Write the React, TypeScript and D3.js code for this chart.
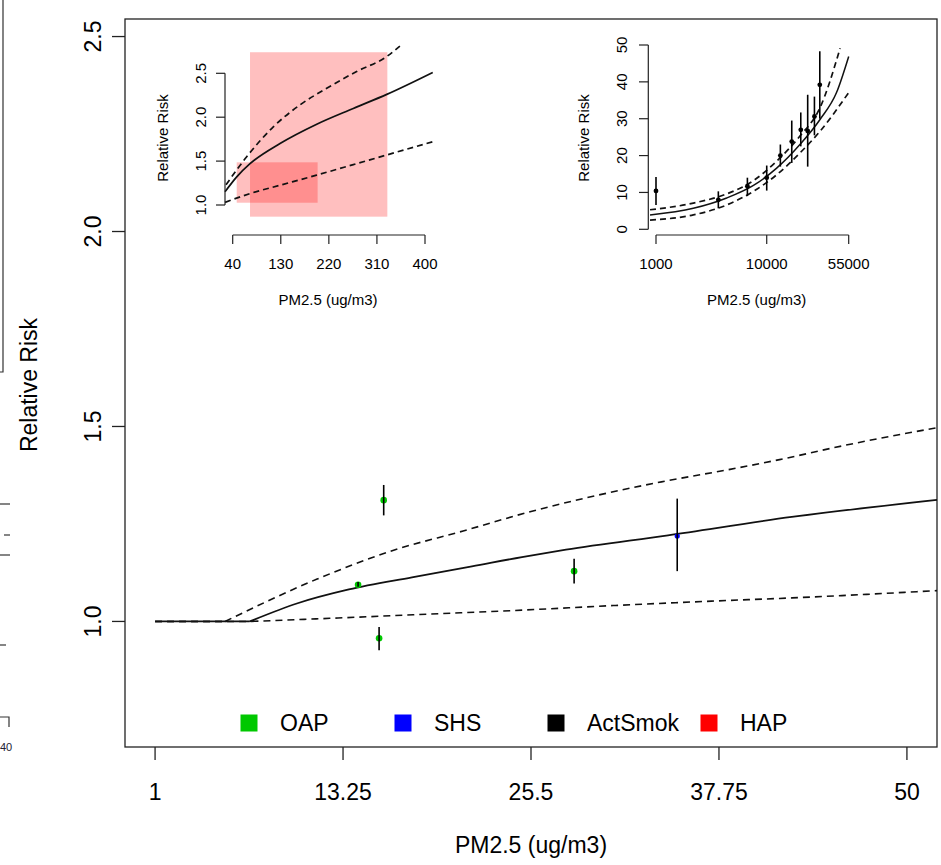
import React from "react";
import * as d3 from "d3";

// ---------- main panel data ----------
const mainTicksX = [1, 13.25, 25.5, 37.75, 50];
const mainTickLabelsX = ["1", "13.25", "25.5", "37.75", "50"];
const mainTicksY = [1.0, 1.5, 2.0, 2.5];
const mainTickLabelsY = ["1.0", "1.5", "2.0", "2.5"];

const mainCurveX = [1, 7.17, 10.24, 13.63, 17.74, 21.65, 24.91, 27.78, 34.43, 42.5, 51.96];
const mainCurveY = [1.0, 1.0, 1.046, 1.082, 1.113, 1.141, 1.165, 1.184, 1.221, 1.268, 1.312];
const mainUpperX = [1, 5.56, 11.52, 16.5, 21.08, 25.5, 29.77, 34.0, 38.47, 41.7, 46.0, 51.96];
const mainUpperY = [1.0, 1.0, 1.108, 1.182, 1.232, 1.282, 1.323, 1.358, 1.39, 1.415, 1.452, 1.497];
const mainLowerX = [1, 7.28, 12.39, 19.56, 24.4, 31.0, 38.47, 41.7, 51.96];
const mainLowerY = [1.0, 1.0, 1.008, 1.02, 1.028, 1.041, 1.054, 1.059, 1.079];

const oapX = [15.9, 14.23, 15.6, 28.31];
const oapY = [1.311, 1.094, 0.957, 1.129];
const oapLo = [1.272, 1.089, 0.926, 1.097];
const oapHi = [1.35, 1.101, 0.986, 1.161];

const shsX = [35.03];
const shsY = [1.219];
const shsLo = [1.129];
const shsHi = [1.315];

const legendLabels = ["OAP", "SHS", "ActSmok", "HAP"];
const legendColors = ["#00C800", "#0000FF", "#000000", "#FF0000"];

// ---------- inset 1 (HAP) data ----------
const hapTicksX = [40, 130, 220, 310, 400];
const hapTicksY = [1.0, 1.5, 2.0, 2.5];
const hapTickLabelsY = ["1.0", "1.5", "2.0", "2.5"];
const hapCurveX = [25.6, 47.5, 72.4, 128.6, 197.3, 265.8, 328.4, 414.5];
const hapCurveY = [1.15, 1.32, 1.47, 1.7, 1.92, 2.1, 2.26, 2.51];
const hapUpperX = [27.5, 66.2, 116, 166, 216, 272, 328, 353];
const hapUpperY = [1.23, 1.55, 1.89, 2.14, 2.33, 2.52, 2.69, 2.81];
const hapLowerX = [25.6, 72.4, 134.8, 197, 265.8, 328.4, 414.5];
const hapLowerY = [1.03, 1.13, 1.235, 1.34, 1.46, 1.57, 1.72];
const hapRectX0 = [72.4, 47.5];
const hapRectX1 = [329.5, 199];
const hapRectY0 = [0.867, 1.026];
const hapRectY1 = [2.74, 1.486];

// ---------- inset 2 (ActSmok) data ----------
const actTicksX = [1000, 10000, 55000];
const actTicksY = [0, 10, 20, 30, 40, 50];
const actX = [1000, 3656, 6690, 10000, 13280, 16830, 20300, 23440, 26970, 30150];
const actY = [10.4, 8.0, 11.7, 14.0, 20.0, 23.8, 27.0, 26.7, 30.6, 39.2];
const actLo = [6.6, 5.7, 9.0, 10.5, 17.0, 18.0, 22.5, 17.0, 25.5, 30.0];
const actHi = [14.2, 10.3, 14.0, 17.3, 23.0, 29.5, 31.7, 36.5, 36.0, 48.3];
const actCurveX = [883, 2173, 4350, 7590, 12300, 19950, 30300, 42700, 55000];
const actCurveY = [3.9, 5.7, 8.5, 11.9, 16.6, 23.0, 29.8, 37.1, 46.9];
const actUpperX = [883, 2173, 4350, 7590, 12300, 19950, 30300, 46000];
const actUpperY = [5.3, 7.1, 9.6, 13.2, 18.5, 25.3, 33.0, 49.1];
const actLowerX = [883, 2173, 4350, 7590, 12300, 19950, 30300, 55000];
const actLowerY = [2.5, 3.9, 6.6, 10.3, 14.8, 20.7, 26.6, 37.1];

const FONT = "'Liberation Sans', Arial, Helvetica, sans-serif";

function zip(xs: number[], ys: number[]): [number, number][] {
  return xs.map((x, i) => [x, ys[i]]);
}

export default function App() {
  // main scales
  const x = d3.scaleLinear().domain([-0.96, 51.96]).range([125, 937]);
  const y = d3.scaleLinear().domain([0.678, 2.545]).range([747, 19]);

  // inset 1 scales
  const hx = d3.scaleLinear().domain([40, 400]).range([232.7, 425]);
  const hy = d3.scaleLinear().domain([1.0, 2.5]).range([205, 73.3]);

  // inset 2 scales
  const ax = d3.scaleLog().domain([1000, 55000]).range([656, 848.7]);
  const ay = d3.scaleLinear().domain([0, 50]).range([229.3, 45]);

  const mainLin = d3.line<[number, number]>().x((d) => x(d[0])).y((d) => y(d[1])).curve(d3.curveLinear);
  const mainLine = d3.line<[number, number]>().x((d) => x(d[0])).y((d) => y(d[1])).curve(d3.curveMonotoneX);
  // flat threshold part drawn straight, rising part drawn smooth (sharp kink at threshold)
  const mainPath = (xs: number[], ys: number[]) => {
    const pts = zip(xs, ys);
    return (mainLin(pts.slice(0, 2)) || "") + (mainLine(pts.slice(1)) || "");
  };
  const hapLine = d3.line<[number, number]>().x((d) => hx(d[0])).y((d) => hy(d[1])).curve(d3.curveMonotoneX);
  const actLine = d3.line<[number, number]>().x((d) => ax(d[0])).y((d) => ay(d[1])).curve(d3.curveMonotoneX);

  const legendX = [249, 403, 556, 709];
  const legendY = 723;

  return (
    <svg
      width={941}
      height={865}
      style={{ position: "absolute", left: 0, top: 0, background: "#fff" }}
      fontFamily={FONT}
    >
      <rect x={0} y={0} width={941} height={865} fill="#fff" />

      {/* residue of neighbouring panel at left edge */}
      <g stroke="#333" strokeWidth={1.2} fill="none">
        <path d="M3,0 L3,372 L0,372" />
        <line x1={0} x2={10} y1={504} y2={504} />
        <line x1={4} x2={10} y1={535} y2={535} />
        <line x1={0} x2={10} y1={555} y2={555} />
        <line x1={0} x2={6} y1={645} y2={645} />
        <path d="M0,717 L9,717 L9,727" />
      </g>
      <text x={0} y={751} fontSize={11} fill="#223">40</text>

      {/* ---------- main panel ---------- */}
      <rect x={125} y={19} width={812} height={728} fill="none" stroke="#222" strokeWidth={1.3} />

      <g stroke="#222" strokeWidth={1.3}>
        {mainTicksY.map((t) => (
          <line key={t} x1={112} x2={125} y1={y(t)} y2={y(t)} />
        ))}
        {mainTicksX.map((t) => (
          <line key={t} x1={x(t)} x2={x(t)} y1={747} y2={760} />
        ))}
      </g>
      {mainTicksY.map((t, i) => (
        <text
          key={t}
          transform={`translate(93,${y(t)}) rotate(-90)`}
          textAnchor="middle"
          dominantBaseline="central"
          fontSize={23}
        >
          {mainTickLabelsY[i]}
        </text>
      ))}
      {mainTicksX.map((t, i) => (
        <text key={t} x={x(t)} y={800} textAnchor="middle" fontSize={23}>
          {mainTickLabelsX[i]}
        </text>
      ))}
      <text x={531} y={853} textAnchor="middle" fontSize={23}>PM2.5 (ug/m3)</text>
      <text transform="translate(29,385) rotate(-90)" textAnchor="middle" dominantBaseline="central" fontSize={23}>
        Relative Risk
      </text>

      {/* main curves */}
      <path d={mainPath(mainUpperX, mainUpperY)} fill="none" stroke="#111" strokeWidth={1.6} strokeDasharray="7,5" />
      <path d={mainPath(mainLowerX, mainLowerY)} fill="none" stroke="#111" strokeWidth={1.6} strokeDasharray="7,5" />
      <path d={mainPath(mainCurveX, mainCurveY)} fill="none" stroke="#111" strokeWidth={1.8} />

      {/* OAP points */}
      {oapX.map((v, i) => (
        <g key={"o" + i}>
          <circle cx={x(v)} cy={y(oapY[i])} r={3.3} fill="#00C800" />
          <line x1={x(v)} x2={x(v)} y1={y(oapLo[i])} y2={y(oapHi[i])} stroke="#000" strokeWidth={1.6} />
        </g>
      ))}
      {shsX.map((v, i) => (
        <g key={"s" + i}>
          <circle cx={x(v)} cy={y(shsY[i])} r={2.6} fill="#0000FF" />
          <line x1={x(v)} x2={x(v)} y1={y(shsLo[i])} y2={y(shsHi[i])} stroke="#000" strokeWidth={1.6} />
        </g>
      ))}

      {/* legend */}
      {legendLabels.map((lab, i) => (
        <g key={lab}>
          <rect x={legendX[i] - 8.5} y={legendY - 8.5} width={17} height={17} fill={legendColors[i]} />
          <text x={legendX[i] + 31} y={legendY + 8} fontSize={23}>{lab}</text>
        </g>
      ))}

      {/* ---------- inset 1: HAP ---------- */}
      {hapRectX0.map((v, i) => (
        <rect
          key={"r" + i}
          x={hx(v)}
          y={hy(hapRectY1[i])}
          width={hx(hapRectX1[i]) - hx(v)}
          height={hy(hapRectY0[i]) - hy(hapRectY1[i])}
          fill="#FF0000"
          fillOpacity={0.25}
        />
      ))}
      <path d={hapLine(zip(hapUpperX, hapUpperY)) || ""} fill="none" stroke="#111" strokeWidth={1.7} strokeDasharray="6,4" />
      <path d={hapLine(zip(hapLowerX, hapLowerY)) || ""} fill="none" stroke="#111" strokeWidth={1.7} strokeDasharray="6,4" />
      <path d={hapLine(zip(hapCurveX, hapCurveY)) || ""} fill="none" stroke="#111" strokeWidth={1.7} />
      <g stroke="#222" strokeWidth={1.2}>
        <line x1={225} x2={225} y1={hy(1.0)} y2={hy(2.5)} />
        {hapTicksY.map((t) => (
          <line key={t} x1={216} x2={225} y1={hy(t)} y2={hy(t)} />
        ))}
        <line x1={hx(40)} x2={hx(400)} y1={235} y2={235} />
        {hapTicksX.map((t) => (
          <line key={t} x1={hx(t)} x2={hx(t)} y1={235} y2={244} />
        ))}
      </g>
      {hapTicksY.map((t, i) => (
        <text key={t} transform={`translate(200,${hy(t)}) rotate(-90)`} textAnchor="middle" dominantBaseline="central" fontSize={15}>
          {hapTickLabelsY[i]}
        </text>
      ))}
      {hapTicksX.map((t) => (
        <text key={t} x={hx(t)} y={268.5} textAnchor="middle" fontSize={15}>{String(t)}</text>
      ))}
      <text x={328} y={305} textAnchor="middle" fontSize={15}>PM2.5 (ug/m3)</text>
      <text transform="translate(162,138) rotate(-90)" textAnchor="middle" dominantBaseline="central" fontSize={15}>
        Relative Risk
      </text>

      {/* ---------- inset 2: ActSmok ---------- */}
      <path d={actLine(zip(actUpperX, actUpperY)) || ""} fill="none" stroke="#111" strokeWidth={1.7} strokeDasharray="6,4" />
      <path d={actLine(zip(actLowerX, actLowerY)) || ""} fill="none" stroke="#111" strokeWidth={1.7} strokeDasharray="6,4" />
      <path d={actLine(zip(actCurveX, actCurveY)) || ""} fill="none" stroke="#111" strokeWidth={1.5} />
      {actX.map((v, i) => (
        <g key={"a" + i}>
          <line x1={ax(v)} x2={ax(v)} y1={ay(actLo[i])} y2={ay(actHi[i])} stroke="#000" strokeWidth={1.6} />
          <circle cx={ax(v)} cy={ay(actY[i])} r={2.4} fill="#000" />
        </g>
      ))}
      <g stroke="#222" strokeWidth={1.2}>
        <line x1={648.3} x2={648.3} y1={ay(0)} y2={ay(50)} />
        {actTicksY.map((t) => (
          <line key={t} x1={639} x2={648.3} y1={ay(t)} y2={ay(t)} />
        ))}
        <line x1={ax(1000)} x2={ax(55000)} y1={235} y2={235} />
        {actTicksX.map((t) => (
          <line key={t} x1={ax(t)} x2={ax(t)} y1={235} y2={244} />
        ))}
      </g>
      {actTicksY.map((t) => (
        <text key={t} transform={`translate(621.7,${ay(t)}) rotate(-90)`} textAnchor="middle" dominantBaseline="central" fontSize={15}>
          {String(t)}
        </text>
      ))}
      {actTicksX.map((t) => (
        <text key={t} x={ax(t)} y={268.5} textAnchor="middle" fontSize={15}>{String(t)}</text>
      ))}
      <text x={756.7} y={305} textAnchor="middle" fontSize={15}>PM2.5 (ug/m3)</text>
      <text transform="translate(583.3,138) rotate(-90)" textAnchor="middle" dominantBaseline="central" fontSize={15}>
        Relative Risk
      </text>
    </svg>
  );
}
